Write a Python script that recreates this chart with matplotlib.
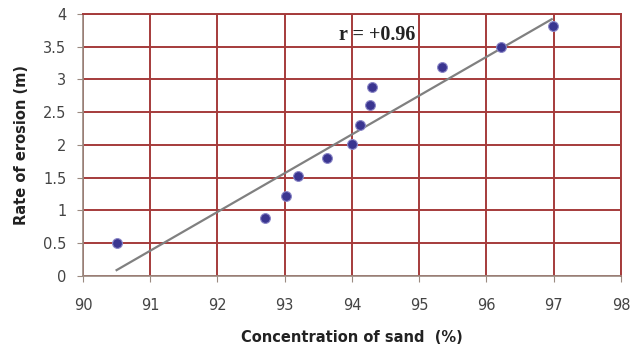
import numpy as np
import matplotlib
matplotlib.use("Agg")
import matplotlib.pyplot as plt

# data
sand = [90.5, 92.7, 93.02, 93.2, 93.63, 94.0, 94.12, 94.27, 94.3, 95.34, 96.22, 96.99]
erosion = [0.5, 0.89, 1.22, 1.52, 1.8, 2.01, 2.3, 2.61, 2.89, 3.19, 3.5, 3.82]
fit_x = [90.5, 96.97]
fit_y = [0.09, 3.92]
r_text = "r = +0.96"

grid_col = "#a53b3b"

fig = plt.figure(figsize=(6.32, 3.47), dpi=100)
ax = fig.add_axes([0.1313, 0.2046, 0.8513, 0.7551])

ax.set_xlim(90, 98)
ax.set_ylim(0, 4)
ax.set_xticks(np.arange(90, 99, 1))
ax.set_yticks(np.arange(0, 4.01, 0.5))
ax.set_yticklabels(["0", "0.5", "1", "1.5", "2", "2.5", "3", "3.5", "4"])

ax.grid(True, color=grid_col, linewidth=1.4)
ax.set_axisbelow(True)
for s in ["top", "right"]:
    ax.spines[s].set_color(grid_col)
    ax.spines[s].set_linewidth(1.4)
for s in ["left", "bottom"]:
    ax.spines[s].set_color("#9a8a80")
    ax.spines[s].set_linewidth(1.2)

ax.tick_params(axis="both", direction="out", length=4, color="#9a8a80",
               labelsize=10.5, labelcolor="#444444")
ax.tick_params(axis="x", pad=12)
ax.tick_params(axis="y", pad=8)

ax.plot(fit_x, fit_y, color="#808080", linewidth=1.6, zorder=3)
ax.scatter(sand, erosion, s=50, color="#3a3590", edgecolors="#8c88c8",
           linewidths=0.8, zorder=4)

ax.text(94.38, 3.68, r_text, family="Liberation Serif", fontweight="bold",
        fontsize=14.5, ha="center", va="center", color="#222222", zorder=5)

ax.set_xlabel("Concentration of sand  (%)", fontsize=10.5, fontweight="bold",
              color="#222222", labelpad=12)
ax.set_ylabel("Rate of erosion (m)", fontsize=10.5, fontweight="bold",
              color="#222222", labelpad=10)

fig.savefig("out.png", dpi=100)
